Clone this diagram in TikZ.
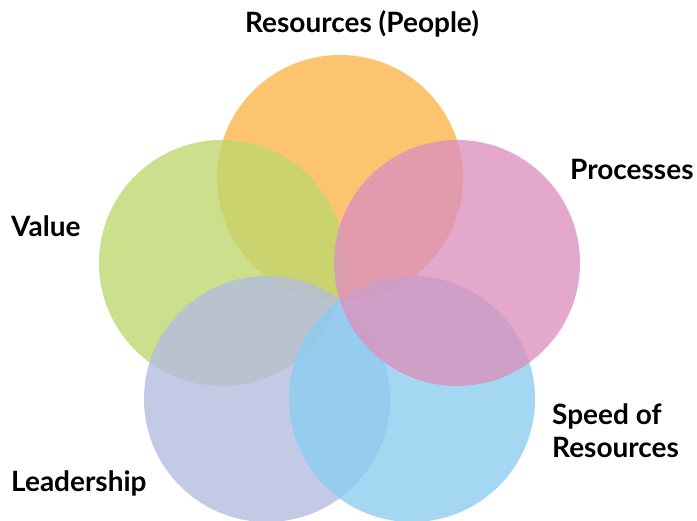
\documentclass[tikz,border=0pt]{standalone}
\usepackage{fontspec}
\setmainfont{Lato}
\definecolor{corange}{RGB}{252,181,76}
\definecolor{cgreen}{RGB}{191,215,111}
\definecolor{cpink}{RGB}{220,146,190}
\definecolor{clav}{RGB}{180,189,224}
\definecolor{cblue}{RGB}{140,205,239}
\begin{document}
\begin{tikzpicture}[x=1pt,y=-1pt,
  petal/.style={circle, minimum size=246pt, inner sep=0pt, fill opacity=0.8, draw=none},
  lbl/.style={font=\bfseries\fontsize{28}{33}\selectfont, text=black, inner sep=0pt, anchor=base west}]
\useasboundingbox (0,0) rectangle (697,521);
\node[petal, fill=corange] (res) at (340,178) {};
\node[petal, fill=cgreen] (val) at (222,263) {};
\node[petal, fill=clav] (lead) at (267,399) {};
\node[petal, fill=cblue] (speed) at (412,399) {};
\node[petal, fill=cpink] (proc) at (457,263) {};
\node[lbl, anchor=base] (tres) at (362,33) {Resources (People)};
\node[lbl] (tproc) at (570,180) {Processes};
\node[lbl] (tval) at (11,237) {Value};
\node[lbl] (tspeed) at (552,425) {Speed of};
\node[lbl] (tspeedb) at (552,458) {Resources};
\node[lbl] (tlead) at (11,492) {Leadership};
\end{tikzpicture}
\end{document}
